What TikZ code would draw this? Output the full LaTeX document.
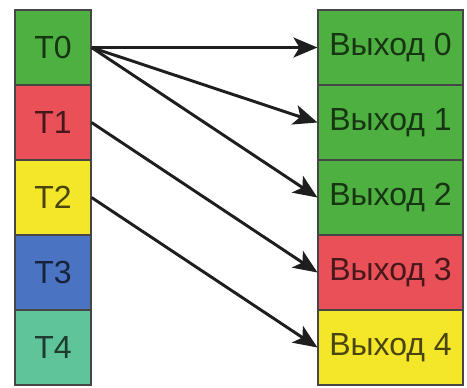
\documentclass[tikz,border=0pt]{standalone}
\usepackage{fontspec}
\setmainfont{Liberation Sans}
\usetikzlibrary{arrows.meta}

\definecolor{cgreen}{RGB}{77,176,64}
\definecolor{cred}{RGB}{234,80,88}
\definecolor{cyellow}{RGB}{244,230,40}
\definecolor{cblue}{RGB}{74,116,194}
\definecolor{cteal}{RGB}{96,196,154}

\tikzset{every picture/.style={line width=1pt},
  cell/.style={draw={rgb,255:red,70;green,70;blue,70}, line width=0.8pt, fill=#1, text=#1!30!black,
    minimum width=57pt, minimum height=56.25pt, inner sep=0pt, font=\fontsize{24}{28}\selectfont},
  outcell/.style={cell=#1, minimum width=108.75pt},
  link/.style={line width=2.2pt, draw={rgb,255:red,30;green,30;blue,30},
    -{Stealth[length=18pt,width=15pt,inset=4.5pt]}}}

\begin{document}
\begin{tikzpicture}[x=0.75pt,y=0.75pt,yscale=-1,xscale=1]
\useasboundingbox (0,0) rectangle (467,387);

% Text Node
\node [cell=cgreen] (t0) at (53,47.5) {T0};
% Text Node
\node [cell=cred] (t1) at (53,122.5) {T1};
% Text Node
\node [cell=cyellow] (t2) at (53,197.5) {T2};
% Text Node
\node [cell=cblue] (t3) at (53,272.5) {T3};
% Text Node
\node [cell=cteal] (t4) at (53,347.5) {T4};

% Text Node
\node [outcell=cgreen] (out0) at (390.5,47.5) {Выход 0};
% Text Node
\node [outcell=cgreen] (out1) at (390.5,122.5) {Выход 1};
% Text Node
\node [outcell=cgreen] (out2) at (390.5,197.5) {Выход 2};
% Text Node
\node [outcell=cred] (out3) at (390.5,272.5) {Выход 3};
% Text Node
\node [outcell=cyellow] (out4) at (390.5,347.5) {Выход 4};

%Straight Lines
\draw [link] (t0.east) -- (out0.west) ;
\draw [link] (t0.east) -- (out1.west) ;
\draw [link] (t0.east) -- (out2.west) ;
\draw [link] (t1.east) -- (out3.west) ;
\draw [link] (t2.east) -- (out4.west) ;

\end{tikzpicture}
\end{document}
